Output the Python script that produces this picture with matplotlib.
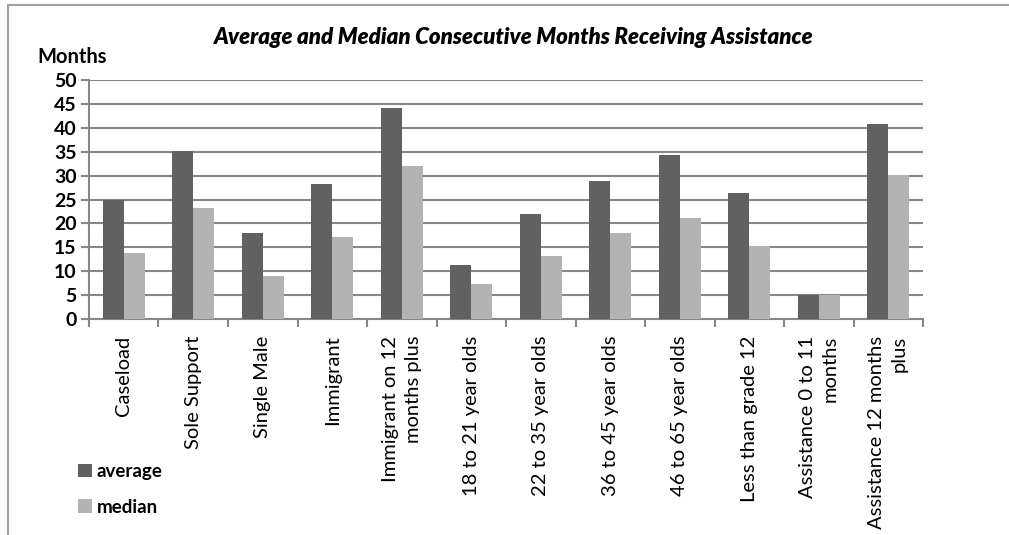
import matplotlib
matplotlib.use("Agg")
import matplotlib.pyplot as plt
from matplotlib.patches import Rectangle
import numpy as np

plt.rcParams["font.family"] = ["Lato", "DejaVu Sans"]

categories = ["Caseload", "Sole Support", "Single Male", "Immigrant",
              "Immigrant on 12\nmonths plus", "18 to 21 year olds",
              "22 to 35 year olds", "36 to 45 year olds", "46 to 65 year olds",
              "Less than grade 12", "Assistance 0 to 11\nmonths",
              "Assistance 12 months\nplus"]
average = [25, 35.1, 18, 28.2, 44.1, 11.3, 21.9, 28.9, 34.3, 26.3, 5, 40.9]
median = [13.9, 23.3, 9.1, 17.1, 32.1, 7.3, 13.1, 17.9, 21.1, 15.2, 5, 30.2]
y_ticks = [0, 5, 10, 15, 20, 25, 30, 35, 40, 45, 50]

dark = "#616161"
light = "#b3b3b3"
grid_col = "#878787"

fig = plt.figure(figsize=(10.09, 5.35), dpi=100)
ax = fig.add_axes([0.0882, 0.4037, 0.8266, 0.4467])

x = np.arange(len(categories))
w = 0.3
ax.bar(x - w / 2, average, w, color=dark, label="average", zorder=3)
ax.bar(x + w / 2, median, w, color=light, label="median", zorder=3)

ax.set_xlim(-0.5, len(categories) - 0.5)
ax.set_ylim(0, 50)
ax.set_yticks(y_ticks)
ax.set_yticklabels([str(t) for t in y_ticks], fontweight="bold", fontsize=14)
ax.yaxis.grid(True, color=grid_col, linewidth=1.5, zorder=0)
ax.set_axisbelow(True)

ax.set_xticks(x)
ax.set_xticklabels(categories, rotation=90, fontsize=14.5, va="top",
                   ha="center", multialignment="right", linespacing=1.4)
ax.tick_params(axis="x", length=0, pad=12)
ax.set_xticks(np.arange(-0.5, len(categories)), minor=True)
ax.tick_params(axis="x", which="minor", length=6, width=1.5, color=grid_col)
ax.tick_params(axis="y", length=6, width=1.5, color=grid_col, pad=3)

for side in ["top", "right"]:
    ax.spines[side].set_visible(False)
for side in ["left", "bottom"]:
    ax.spines[side].set_color(grid_col)
    ax.spines[side].set_linewidth(1.5)

fig.text(0.508, 0.929, "Average and Median Consecutive Months Receiving Assistance",
         ha="center", va="center", fontsize=16, fontweight="heavy", style="italic")
fig.text(0.037, 0.893, "Months", ha="left", va="center", fontsize=14.5,
         fontweight="bold")

fig.legend(loc="upper left", bbox_to_anchor=(0.068, 0.152), frameon=False,
           borderpad=0, handlelength=0.75, handleheight=0.75, handletextpad=0.25,
           labelspacing=1.0, prop={"size": 13.5, "weight": "bold"})

fig.patches.append(Rectangle((8 / 1009, -0.1), 1.2, 1 - 5 / 535 + 0.1,
                             transform=fig.transFigure, fill=False,
                             edgecolor="#a0a0a0", linewidth=1.5))

fig.savefig("out.png", dpi=100)
